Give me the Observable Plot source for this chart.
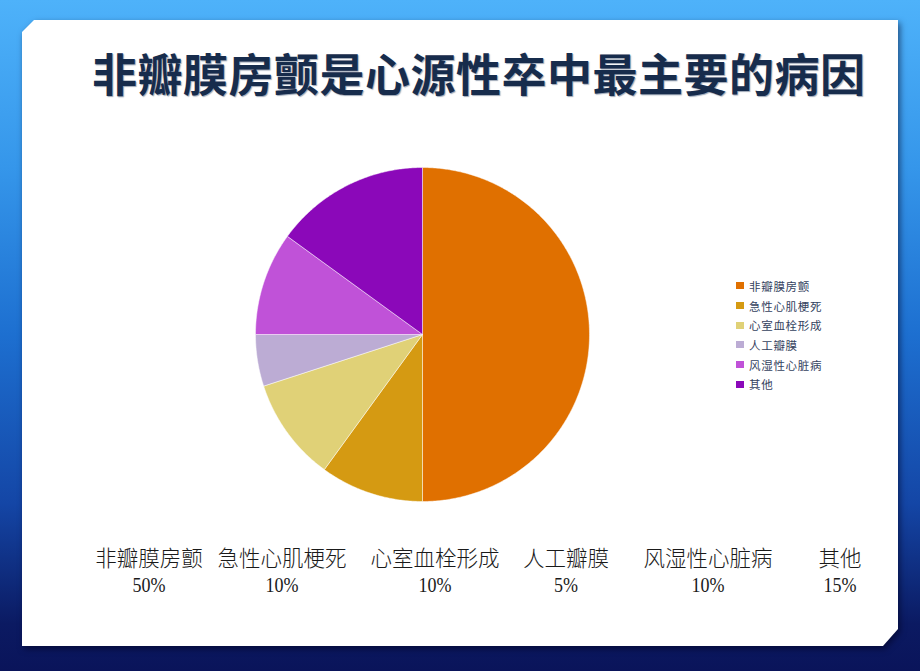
<!DOCTYPE html>
<html>
<head>
<meta charset="utf-8">
<script src="https://cdn.jsdelivr.net/npm/d3@7"></script>
<script src="https://cdn.jsdelivr.net/npm/@observablehq/plot@0.6"></script>
<style>
  html, body { margin: 0; padding: 0; }
  body { width: 920px; height: 671px; overflow: hidden; position: relative;
    background: linear-gradient(to bottom, #4eb2fa 0%, #3596ea 25%, #1d6fd0 50%, #1446a6 75%, #0b1a62 93%, #0a145a 100%);
    font-family: "Noto Sans CJK SC", sans-serif; }
  #cardwrap { position: absolute; left: 0; top: 0; width: 920px; height: 671px; filter: drop-shadow(2px 3px 3px rgba(0,0,30,0.55)); }
  #card { position: absolute; left: 22px; top: 20px; width: 876px; height: 626px; background: #fff;
    clip-path: polygon(12px 0, 100% 0, 100% 609px, 861px 100%, 0 100%, 0 12px); }
  #title { position: absolute; left: 92px; top: 44px; font-size: 45px; font-weight: 700; color: #172c4c;
    letter-spacing: 0.5px; white-space: nowrap; line-height: 58px; text-shadow: 1px 1px 1px rgba(60,80,110,0.5); }
  #pie { position: absolute; left: 252px; top: 164px; }
  #legend { position: absolute; left: 736px; top: 276px; }
  .lg { height: 19.7px; display: flex; align-items: center; font-size: 11.5px; color: #34425e; letter-spacing: 0.7px; font-family: "Noto Sans CJK SC", sans-serif; }
  .sw { width: 8px; height: 7px; margin-right: 5px; }
  .lab { position: absolute; transform: translateX(-50%); text-align: center; white-space: nowrap; color: #1a1a1a; }
  .n { top: 541px; font-size: 21.5px; font-weight: 300; }
  .p { top: 574px; font-size: 20px; font-family: "Liberation Serif", serif; transform: translateX(-50%) scaleX(0.9); }
</style>
</head>
<body>
<div id="cardwrap"><div id="card"></div></div>
<div id="title">非瓣膜房颤是心源性卒中最主要的病因</div>
<div id="pie"></div>
<div id="legend"></div>
<div id="labels"></div>
<script>
const categories = ["非瓣膜房颤", "急性心肌梗死", "心室血栓形成", "人工瓣膜", "风湿性心脏病", "其他"];
const values = [50, 10, 10, 5, 10, 15];
const percentLabels = ["50%", "10%", "10%", "5%", "10%", "15%"];
const colors = ["#e07000", "#d59a12", "#e0d177", "#bcacd4", "#c052d8", "#8b08b9"];
const labelCenters = [149, 282, 435, 566, 708, 840];

const arcs = d3.pie().sort(null).value(d => d.value)(categories.map((c, i) => ({category: c, value: values[i]})));
const pts = [];
arcs.forEach(a => {
  const n = Math.max(2, Math.ceil((a.endAngle - a.startAngle) / 0.01));
  pts.push({category: a.data.category, x: 0, y: 0});
  for (let k = 0; k <= n; k++) {
    const t = a.startAngle + (a.endAngle - a.startAngle) * k / n;
    pts.push({category: a.data.category, x: Math.sin(t), y: Math.cos(t)});
  }
  pts.push({category: a.data.category, x: 0, y: 0});
});

const chart = Plot.plot({
  width: 340, height: 340, margin: 3,
  x: {domain: [-1, 1], axis: null},
  y: {domain: [-1, 1], axis: null},
  color: {domain: categories, range: colors},
  marks: [
    Plot.line(pts, {x: "x", y: "y", z: "category", fill: "category", stroke: "white", strokeWidth: 0.6, strokeOpacity: 0.8})
  ]
});
chart.style.background = "transparent";
document.getElementById("pie").appendChild(chart);

const lg = document.getElementById("legend");
categories.forEach((c, i) => {
  const row = document.createElement("div");
  row.className = "lg";
  row.innerHTML = `<span class="sw" style="background:${colors[i]}"></span><span>${c}</span>`;
  lg.appendChild(row);
});

const lb = document.getElementById("labels");
categories.forEach((c, i) => {
  const a = document.createElement("div");
  a.className = "lab n"; a.style.left = labelCenters[i] + "px"; a.textContent = c;
  const b = document.createElement("div");
  b.className = "lab p"; b.style.left = labelCenters[i] + "px"; b.textContent = percentLabels[i];
  lb.appendChild(a); lb.appendChild(b);
});
</script>
</body>
</html>
